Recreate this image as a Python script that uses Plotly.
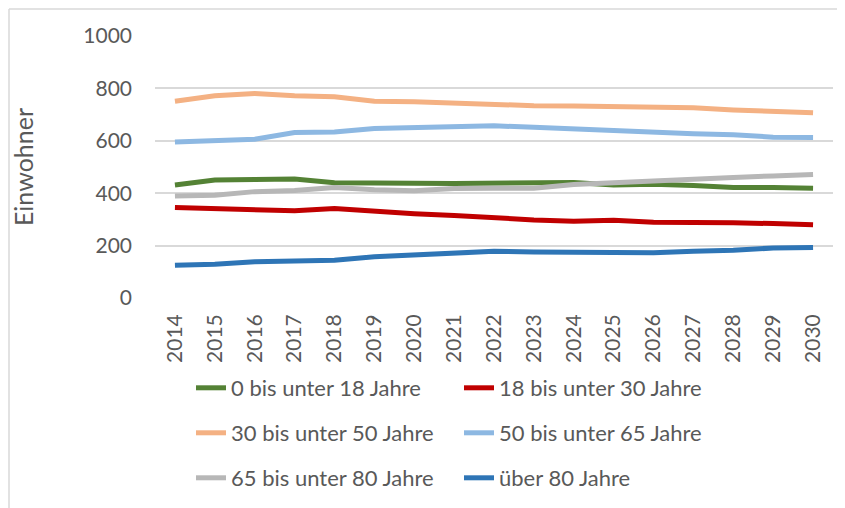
import plotly.graph_objects as go

years = [str(y) for y in range(2014, 2031)]

series_names = [
    "0 bis unter 18 Jahre",
    "18 bis unter 30 Jahre",
    "30 bis unter 50 Jahre",
    "50 bis unter 65 Jahre",
    "65 bis unter 80 Jahre",
    "über 80 Jahre",
]

age_0_18 = [431, 450, 452, 454, 440, 441, 438, 437, 437, 438, 441, 431, 434, 429, 422, 422, 419]
age_18_30 = [345, 342, 339, 333, 342, 331, 322, 315, 305, 298, 293, 297, 289, 289, 287, 284, 280]
age_30_50 = [751, 772, 781, 772, 768, 751, 749, 744, 736, 734, 733, 730, 729, 726, 718, 713, 707]
age_50_65 = [595, 601, 606, 632, 634, 647, 650, 651, 657, 652, 645, 641, 634, 627, 623, 614, 613]
age_65_80 = [389, 392, 406, 410, 422, 413, 409, 418, 419, 419, 433, 440, 447, 457, 460, 466, 471]
age_80_plus = [125, 129, 138, 141, 144, 157, 164, 167, 178, 176, 176, 173, 173, 178, 182, 191, 193]

y_ticks = [0, 200, 400, 600, 800, 1000]

colors = ["#548235", "#C00000", "#F4B183", "#8DB8E2", "#B7B7B7", "#2E75B6"]
values = [age_0_18, age_18_30, age_30_50, age_50_65, age_65_80, age_80_plus]
legend_ids = ["legend", "legend", "legend2", "legend2", "legend3", "legend3"]

FONT = "Lato, 'Noto Sans', sans-serif"
TXT = "#595959"

fig = go.Figure()
for name, vals, col, lg in zip(series_names, values, colors, legend_ids):
    fig.add_trace(go.Scatter(
        x=years, y=vals, name=name, mode="lines",
        line=dict(color=col, width=5),
        legend=lg,
    ))

W, H = 845, 508
# plot area in figure pixels
PL, PR, PT, PB = 147, 825, 28, 289.7
PW, PH = PR - PL, PB - PT

legend_common = dict(
    orientation="h", xref="container", yref="container",
    xanchor="left", yanchor="middle",
    font=dict(family=FONT, size=22, color=TXT),
    entrywidth=223, bgcolor="rgba(0,0,0,0)",
    traceorder="normal",
)

BORDER = dict(color="#D9D9D9", width=1.5)
fx0, fx1 = (1 - PL) / PW, (W + 20 - PL) / PW
fy_top, fy_bot = (PB - 1) / PH, (PB - H - 20) / PH

fig.update_layout(
    width=W, height=H,
    margin=dict(l=PL, r=W - PR, t=PT, b=H - PB, autoexpand=False),
    paper_bgcolor="white", plot_bgcolor="white",
    font=dict(family=FONT, size=21, color=TXT),
    showlegend=True,
    legend=dict(legend_common, x=183 / W, y=1 - 380 / H),
    legend2=dict(legend_common, x=183 / W, y=1 - 425 / H),
    legend3=dict(legend_common, x=183 / W, y=1 - 470 / H),
    xaxis=dict(
        type="category", range=[-0.5, 16.5], tickangle=-90,
        showgrid=False, zeroline=False, showline=False, ticks="",
        tickfont=dict(family=FONT, size=21, color=TXT),
        ticklabelstandoff=11, automargin=False,
    ),
    yaxis=dict(
        range=[0, 1000], tickvals=y_ticks,
        showgrid=True, gridcolor="#D9D9D9", gridwidth=1.5,
        zeroline=False, showline=False, ticks="",
        tickfont=dict(family=FONT, size=21, color=TXT),
        ticklabelstandoff=22, automargin=False,
        title=dict(text="Einwohner", font=dict(family=FONT, size=25, color=TXT), standoff=48),
    ),
    shapes=[
        dict(type="line", xref="paper", yref="paper", x0=fx0, x1=fx1, y0=fy_top, y1=fy_top,
             line=BORDER, layer="below"),
        dict(type="line", xref="paper", yref="paper", x0=fx0, x1=fx0, y0=fy_top, y1=fy_bot,
             line=BORDER, layer="below"),
    ],
)

fig.write_html(
    "out.html",
    config={"displayModeBar": False},
    post_script="document.body.style.overflow='hidden';",
)
